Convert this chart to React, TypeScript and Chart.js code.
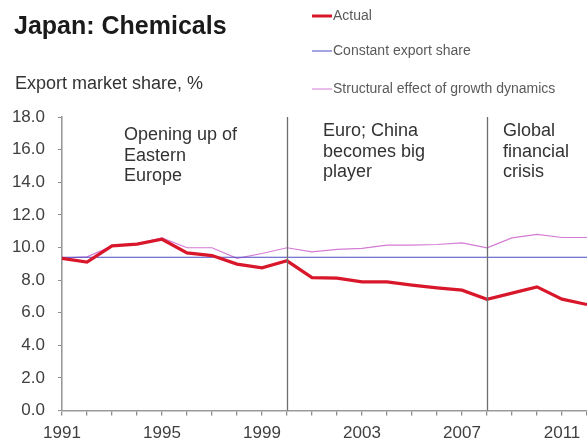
import React, { useEffect, useRef } from 'react';
import { Chart, registerables } from 'chart.js';

Chart.register(...registerables);

const years = ['1991', '1992', '1993', '1994', '1995', '1996', '1997', '1998', '1999', '2000', '2001', '2002', '2003', '2004', '2005', '2006', '2007', '2008', '2009', '2010', '2011', '2012'];
const labeledYears = ['1991', '1995', '1999', '2003', '2007', '2011'];

const actual = [9.33, 9.1, 10.1, 10.2, 10.5, 9.67, 9.5, 8.98, 8.75, 9.18, 8.15, 8.12, 7.89, 7.89, 7.69, 7.52, 7.38, 6.82, 7.2, 7.58, 6.83, 6.5];
const constantShare = [9.4, 9.4, 9.4, 9.4, 9.4, 9.4, 9.4, 9.4, 9.4, 9.4, 9.4, 9.4, 9.4, 9.4, 9.4, 9.4, 9.4, 9.4, 9.4, 9.4, 9.4, 9.4];
const structural = [9.35, 9.42, 10.08, 10.22, 10.58, 9.98, 9.98, 9.33, 9.63, 9.98, 9.73, 9.88, 9.94, 10.14, 10.14, 10.18, 10.28, 9.98, 10.59, 10.8, 10.61, 10.61];

const seriesNames = ['Actual', 'Constant export share', 'Structural effect of growth dynamics'];

const eventYears = ['2000', '2008'];
const eventTexts = [
  ['Opening up of', 'Eastern', 'Europe'],
  ['Euro; China', 'becomes big', 'player'],
  ['Global', 'financial', 'crisis'],
];

const titleText = 'Japan: Chemicals';
const subtitleText = 'Export market share, %';

const FONT = "'Liberation Sans', Arial, sans-serif";

const overlayPlugin = {
  id: 'overlay',
  afterDatasetsDraw(chart: any) {
    const ctx = chart.ctx;
    const area = chart.chartArea;
    const x = chart.scales.x;
    ctx.save();
    ctx.strokeStyle = '#6e6e6e';
    ctx.lineWidth = 1.3;
    eventYears.forEach((yr) => {
      const px = Math.round(x.getPixelForValue(years.indexOf(yr))) + 0.5;
      ctx.beginPath();
      ctx.moveTo(px, area.top);
      ctx.lineTo(px, area.bottom);
      ctx.stroke();
    });
    ctx.fillStyle = '#333333';
    ctx.font = `18px ${FONT}`;
    ctx.textAlign = 'left';
    ctx.textBaseline = 'alphabetic';
    const anchors = [
      { x: x.getPixelForValue(0) + 62, y: area.top + 23 },
      { x: x.getPixelForValue(years.indexOf(eventYears[0])) + 36, y: area.top + 19 },
      { x: x.getPixelForValue(years.indexOf(eventYears[1])) + 16, y: area.top + 19 },
    ];
    eventTexts.forEach((lines, i) => {
      lines.forEach((line, j) => {
        ctx.fillText(line, anchors[i].x, anchors[i].y + j * 20.5);
      });
    });
    ctx.restore();
  },
  afterDraw(chart: any) {
    const ctx = chart.ctx;
    ctx.save();
    ctx.textAlign = 'left';
    ctx.textBaseline = 'alphabetic';
    ctx.fillStyle = '#1a1a1a';
    ctx.font = `bold 25px ${FONT}`;
    ctx.fillText(titleText, 14, 34);
    ctx.fillStyle = '#333333';
    ctx.font = `18px ${FONT}`;
    ctx.fillText(subtitleText, 15, 89);
    const ys = [16, 51, 89];
    ctx.font = `14px ${FONT}`;
    ctx.textBaseline = 'middle';
    chart.data.datasets.forEach((ds: any, i: number) => {
      ctx.strokeStyle = ds.borderColor;
      ctx.lineWidth = i === 0 ? 3 : 1;
      ctx.beginPath();
      ctx.moveTo(312, ys[i]);
      ctx.lineTo(332, ys[i]);
      ctx.stroke();
      ctx.fillStyle = '#5a5a5a';
      ctx.fillText(ds.label, 333, ys[i] + 0.5);
    });
    ctx.restore();
  },
};

export default function App() {
  const ref = useRef<HTMLCanvasElement | null>(null);
  useEffect(() => {
    if (!ref.current) return;
    const chart = new Chart(ref.current, {
      type: 'line',
      data: {
        labels: years,
        datasets: [
          { label: seriesNames[0], data: actual, borderColor: '#d9172b', borderWidth: 3.2, pointRadius: 0, tension: 0, fill: false },
          { label: seriesNames[1], data: constantShare, borderColor: '#4b4bc6', borderWidth: 1.2, pointRadius: 0, tension: 0, fill: false },
          { label: seriesNames[2], data: structural, borderColor: '#d47cd4', borderWidth: 1.2, pointRadius: 0, tension: 0, fill: false },
        ],
      },
      options: {
        responsive: false,
        animation: false,
        layout: { padding: { top: 117, left: 0, right: 0, bottom: 0 } },
        plugins: {
          legend: { display: false },
          title: { display: false },
          tooltip: { enabled: false },
        },
        scales: {
          x: {
            type: 'category',
            offset: false,
            grid: { drawOnChartArea: false, drawTicks: true, tickLength: 5, color: '#8c8c8c', lineWidth: 1.3 },
            border: { display: true, color: '#9a9a9a', width: 1.6 },
            ticks: {
              autoSkip: false,
              maxRotation: 0,
              padding: 9.5,
              color: '#404040',
              font: { family: FONT, size: 17, lineHeight: 1 },
              callback: (_v: any, i: number) => (labeledYears.includes(years[i]) ? years[i] : ''),
            },
            afterFit: (s: any) => {
              s.height = 30.5;
              s.paddingLeft = 0;
              s.paddingRight = 0;
            },
          },
          y: {
            min: 0,
            max: 18,
            grid: { drawOnChartArea: false, drawTicks: true, tickLength: 4, color: '#8c8c8c' },
            border: { display: true, color: '#9a9a9a', width: 1.6 },
            ticks: {
              stepSize: 2,
              padding: 13,
              color: '#404040',
              font: { family: FONT, size: 17 },
              callback: (v: any) => Number(v).toFixed(1),
            },
            afterFit: (s: any) => {
              s.width = 62;
            },
          },
        },
      },
      plugins: [overlayPlugin],
    });
    return () => chart.destroy();
  }, []);
  return (
    <div style={{ position: 'fixed', left: 0, top: 0, width: 587, height: 441, background: '#ffffff' }}>
      <canvas ref={ref} width={587} height={441} style={{ display: 'block', width: 587, height: 441 }} />
    </div>
  );
}
